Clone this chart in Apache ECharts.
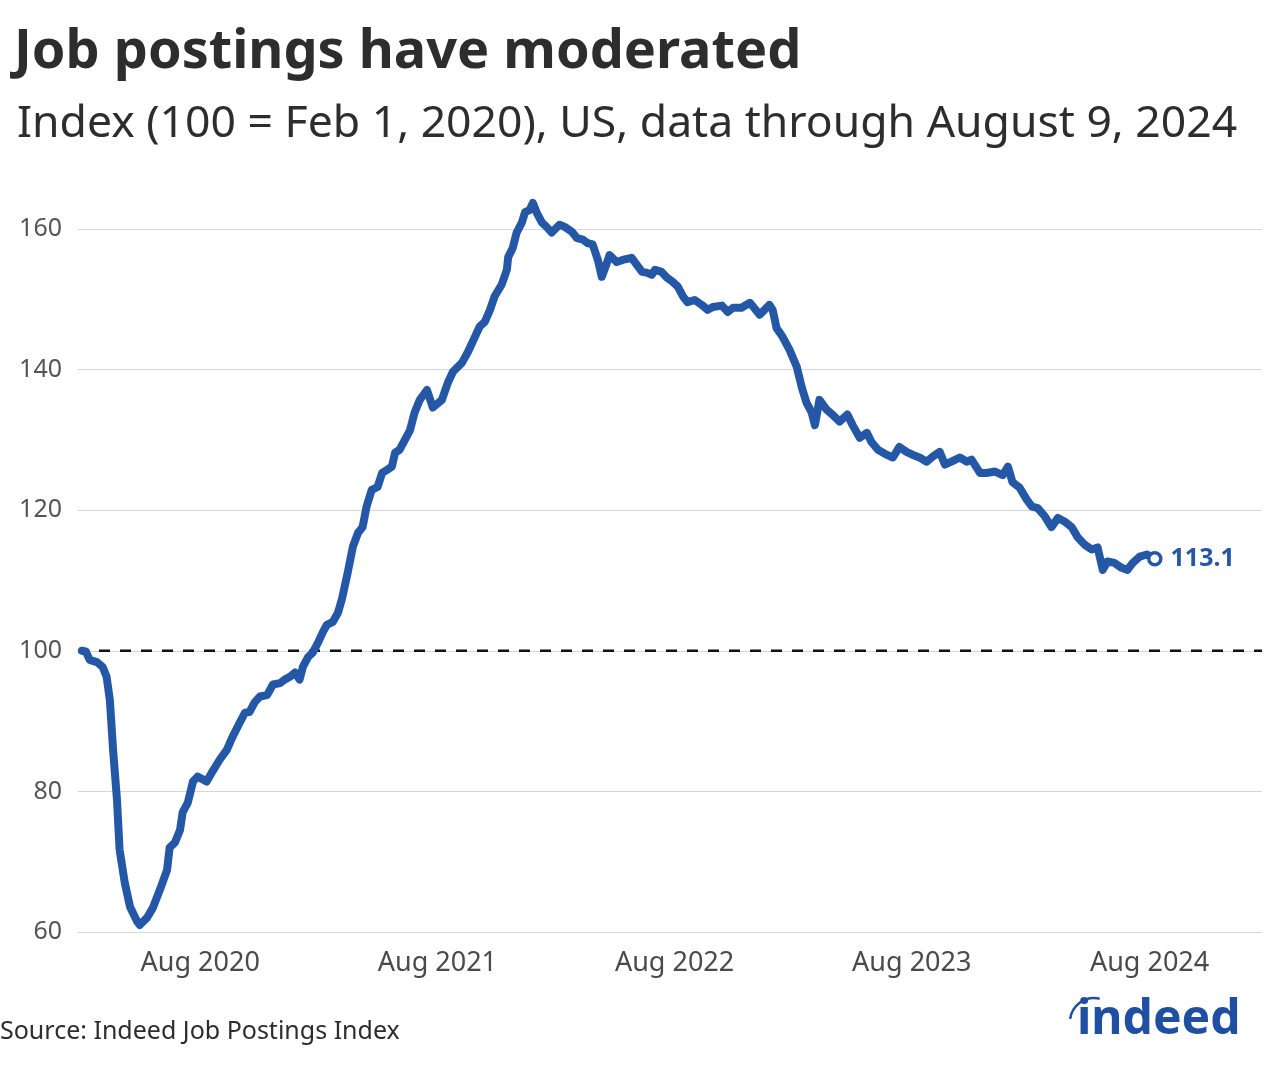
<!DOCTYPE html>
<html>
<head>
<meta charset="utf-8">
<script src="https://cdn.jsdelivr.net/npm/echarts@6/dist/echarts.min.js"></script>
<style>
html,body{margin:0;padding:0;background:#fff;}
#chart{width:1280px;height:1067px;}
</style>
</head>
<body>
<div id="chart"></div>
<script>
// ---- Data ----
const dates = [
 '2020-02-01','2020-02-07','2020-02-13','2020-02-24','2020-03-04','2020-03-10','2020-03-15','2020-03-20','2020-03-26','2020-03-30',
 '2020-04-07','2020-04-15','2020-04-26','2020-04-30','2020-05-11','2020-05-20','2020-05-31','2020-06-11','2020-06-15','2020-06-23',
 '2020-07-01','2020-07-05','2020-07-13','2020-07-21','2020-07-28','2020-08-11','2020-08-21','2020-08-31','2020-09-11','2020-09-20',
 '2020-10-01','2020-10-09','2020-10-16','2020-10-24','2020-11-01','2020-11-12','2020-11-21','2020-12-02','2020-12-09','2020-12-17',
 '2020-12-25','2021-01-01','2021-01-06','2021-01-14','2021-01-21','2021-01-29','2021-02-06','2021-02-12','2021-02-21','2021-03-01',
 '2021-03-07','2021-03-16','2021-03-24','2021-04-01','2021-04-08','2021-04-14','2021-04-22','2021-05-01','2021-05-08','2021-05-15',
 '2021-05-23','2021-05-28','2021-06-04','2021-06-12','2021-06-20','2021-06-27','2021-07-05','2021-07-16','2021-07-25','2021-08-08',
 '2021-08-17','2021-08-25','2021-09-08','2021-09-17','2021-09-28','2021-10-05','2021-10-13','2021-10-21','2021-10-28','2021-11-08',
 '2021-11-16','2021-11-18','2021-11-25','2021-12-01','2021-12-09','2021-12-14','2021-12-21','2021-12-26','2022-01-01','2022-01-09',
 '2022-01-16','2022-01-24','2022-02-05','2022-02-13','2022-02-24','2022-03-04','2022-03-13','2022-03-20','2022-03-28','2022-04-05',
 '2022-04-11','2022-04-19','2022-04-23','2022-05-04','2022-05-13','2022-05-27','2022-06-04','2022-06-12','2022-06-19','2022-06-27',
 '2022-07-02','2022-07-12','2022-07-20','2022-07-29','2022-08-06','2022-08-14','2022-08-21','2022-09-01','2022-09-12','2022-09-21',
 '2022-09-29','2022-10-13','2022-10-22','2022-10-30','2022-11-12','2022-11-25','2022-12-10','2022-12-25','2022-12-30','2023-01-05',
 '2023-01-14','2023-01-25','2023-02-05','2023-02-13','2023-02-20','2023-02-28','2023-03-05','2023-03-12','2023-03-23','2023-04-01',
 '2023-04-12','2023-04-24','2023-05-02','2023-05-13','2023-05-24','2023-05-31','2023-06-10','2023-06-23','2023-07-03','2023-07-13',
 '2023-07-24','2023-08-02','2023-08-13','2023-08-24','2023-09-02','2023-09-13','2023-09-21','2023-10-01','2023-10-14','2023-10-25',
 '2023-11-01','2023-11-14','2023-11-24','2023-12-07','2023-12-19','2023-12-27','2024-01-03','2024-01-14','2024-01-25','2024-02-02',
 '2024-02-11','2024-02-22','2024-03-03','2024-03-13','2024-03-23','2024-04-03','2024-04-12','2024-04-23','2024-05-04','2024-05-13',
 '2024-05-21','2024-05-28','2024-06-08','2024-06-19','2024-06-28','2024-07-06','2024-07-17','2024-07-28','2024-08-09'
];
const values = [
 100.0,99.9,98.7,98.4,97.7,96.3,93.0,85.9,78.8,71.7,
 67.0,63.6,61.5,61.0,62.0,63.4,66.0,68.8,72.0,72.7,
 74.5,77.0,78.4,81.4,82.1,81.4,83.0,84.5,85.9,87.8,
 89.8,91.2,91.3,92.7,93.5,93.7,95.2,95.4,95.9,96.3,
 96.9,95.9,97.7,99.1,99.7,101.1,102.7,103.7,104.1,105.4,
 107.3,111.1,114.8,116.8,117.6,120.5,122.9,123.3,125.3,125.7,
 126.2,128.2,128.6,130.0,131.4,133.9,135.7,137.1,134.6,135.7,
 138.1,139.7,141.0,142.5,144.7,146.1,146.8,148.5,150.4,152.1,
 154.2,156.0,157.3,159.5,160.9,162.4,162.7,163.7,162.3,160.9,
 160.3,159.5,160.6,160.3,159.6,158.7,158.5,158.0,157.8,155.6,
 153.2,155.2,156.3,155.3,155.6,155.9,154.9,153.9,153.8,153.5,
 154.2,153.9,153.1,152.5,151.8,150.4,149.6,149.9,149.2,148.5,
 148.9,149.1,148.2,148.8,148.8,149.5,147.8,149.2,148.5,145.9,
 144.7,142.8,140.4,137.4,135.3,133.9,132.1,135.7,134.3,133.6,
 132.6,133.6,132.1,130.3,131.0,129.7,128.6,127.9,127.5,129.0,
 128.3,127.9,127.5,126.9,127.6,128.3,126.5,126.9,127.5,126.9,
 127.2,125.3,125.3,125.5,125.0,126.2,124.0,123.2,121.5,120.5,
 120.3,119.1,117.6,118.9,118.4,117.6,116.2,115.1,114.4,114.7,
 111.5,112.7,112.5,111.8,111.5,112.5,113.4,113.7,113.1
];
const yTicks = [60, 80, 100, 120, 140, 160];
const xLabelDates = ['2020-08-01','2021-08-01','2022-08-01','2023-08-01','2024-08-01'];
const baselineValue = 100;
const axisStart = '2020-01-26';
const axisEnd = '2025-01-21';
const lastLabel = '113.1';

const titleText = 'Job postings have moderated';
const subtitleText = 'Index (100 = Feb 1, 2020), US, data through August 9, 2024';
const sourceText = 'Source: Indeed Job Postings Index';

// ---- Build ----
function toTime(s){ const p = s.split('-').map(Number); return Date.UTC(p[0], p[1]-1, p[2]); }
const seriesData = dates.map((d,i)=>[toTime(d), values[i]]);
const lastPoint = seriesData[seriesData.length-1];
const BLUE = '#2557a7';
const FONT = '"Noto Sans", "Open Sans", sans-serif';

const chart = echarts.init(document.getElementById('chart'), null, {renderer:'canvas'});
chart.setOption({
  animation:false,
  backgroundColor:'#fff',
  textStyle:{fontFamily:FONT},
  grid:{left:78, right:18, top:229, bottom:135, containLabel:false},
  xAxis:{
    type:'value',
    min:toTime(axisStart), max:toTime(axisEnd),
    axisLine:{show:false}, axisTick:{show:false},
    splitLine:{show:false},
    axisLabel:{
      customValues: xLabelDates.map(toTime),
      formatter:(v)=>'Aug ' + new Date(v).getUTCFullYear(),
      fontSize:27, color:'#4a4a4a', margin:18, fontFamily:FONT
    }
  },
  yAxis:{
    type:'value', min:yTicks[0], max:yTicks[yTicks.length-1], interval:20,
    axisLine:{show:false}, axisTick:{show:false},
    splitLine:{lineStyle:{color:'#d6d6d6', width:1}},
    axisLabel:{fontSize:25, color:'#555', margin:16, fontFamily:FONT}
  },
  series:[
    {
      type:'line', name:'baseline', silent:true, showSymbol:false, z:1,
      data:[[toTime(axisStart), baselineValue],[toTime(axisEnd), baselineValue]],
      lineStyle:{color:'#111', width:2.5, type:[11,10]}
    },
    {
      type:'line', name:'Job postings', clip:false, showSymbol:false, z:3,
      data:seriesData,
      lineStyle:{color:BLUE, width:8, cap:'round', join:'round'}
    },
    {
      type:'scatter', z:5, clip:false,
      data:[lastPoint],
      symbol:'circle', symbolSize:12,
      itemStyle:{color:'#fff', borderColor:BLUE, borderWidth:3.5, opacity:1},
      label:{show:true, position:'right', distance:8, formatter:lastLabel,
             fontSize:25, fontWeight:'bold', color:BLUE, fontFamily:FONT}
    }
  ],
  graphic:[
    {type:'text', left:14, top:26, style:{text:titleText, font:'bold 54px '+FONT, fill:'#2d2d2d'}},
    {type:'text', left:17, top:102, style:{text:subtitleText, font:'44.5px '+FONT, fill:'#2d2d2d'}},
    {type:'text', left:0, top:1019, style:{text:sourceText, font:'25px '+FONT, fill:'#2d2d2d'}},
    {type:'text', left:1077, top:996, style:{text:'indeed', font:'bold 48px '+FONT, fill:'#1f4fa3'}},
    {type:'arc', shape:{cx:1094, cy:1022, r:24, startAngle:3.27, endAngle:4.95},
     style:{stroke:'#1f4fa3', lineWidth:2.5, fill:null}}
  ]
});
</script>
</body>
</html>
